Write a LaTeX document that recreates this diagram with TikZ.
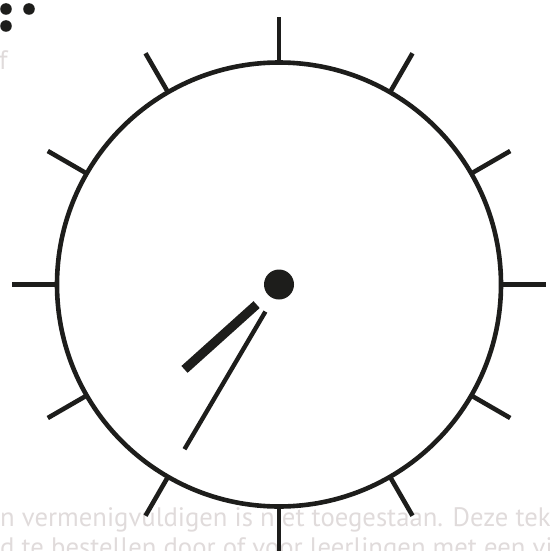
\documentclass[tikz,border=0pt]{standalone}
\usepackage{fontspec}
\setmainfont{PT Sans}
\usetikzlibrary{calc}
\definecolor{ink}{RGB}{29,29,27}
\definecolor{wm}{RGB}{224,219,219}
\begin{document}
\begin{tikzpicture}[x=1pt,y=-1pt,
  wmtext/.style={anchor=base west, inner sep=0pt, text=wm, font=\fontsize{26.7}{30}\selectfont},
  clockline/.style={draw=ink, line width=4.6pt},
  ticksty/.style={draw=ink, line width=4.6pt},
  hourhand/.style={draw=ink, line width=9.2pt},
  minhand/.style={draw=ink, line width=4.4pt},
  dotsty/.style={fill=ink}]
\useasboundingbox (0,0) rectangle (549,551);
\clip (0,0) rectangle (549,551);
% background watermark text
\node[wmtext] (wf) at (-1,70) {f};
\node[wmtext] (w1) at (0,526) {n vermenigvuldigen is niet toegestaan. Deze teke};
\node[wmtext] (w2) at (0,556) {d te bestellen door of voor leerlingen met een vi};
% braille dots
\fill[dotsty] (6,9) circle[radius=5.8pt];
\fill[dotsty] (29,9) circle[radius=5.8pt];
\fill[dotsty] (6,26) circle[radius=5.8pt];
% clock
\coordinate (c) at (279,284.5);
\draw[clockline] (c) circle[radius=222pt];
\foreach \a in {0,30,...,330}
  \draw[ticksty] ($(c)+(\a:222pt)$) -- ($(c)+(\a:267pt)$);
\coordinate (h1) at (256.6,304.6);
\coordinate (h2) at (184.5,369.4);
\coordinate (m1) at (265.4,311.6);
\coordinate (m2) at (184.5,449.2);
\draw[hourhand] (h1) -- (h2);
\draw[minhand] (m1) -- (m2);
\fill[dotsty] (c) circle[radius=15pt];
\end{tikzpicture}
\end{document}
